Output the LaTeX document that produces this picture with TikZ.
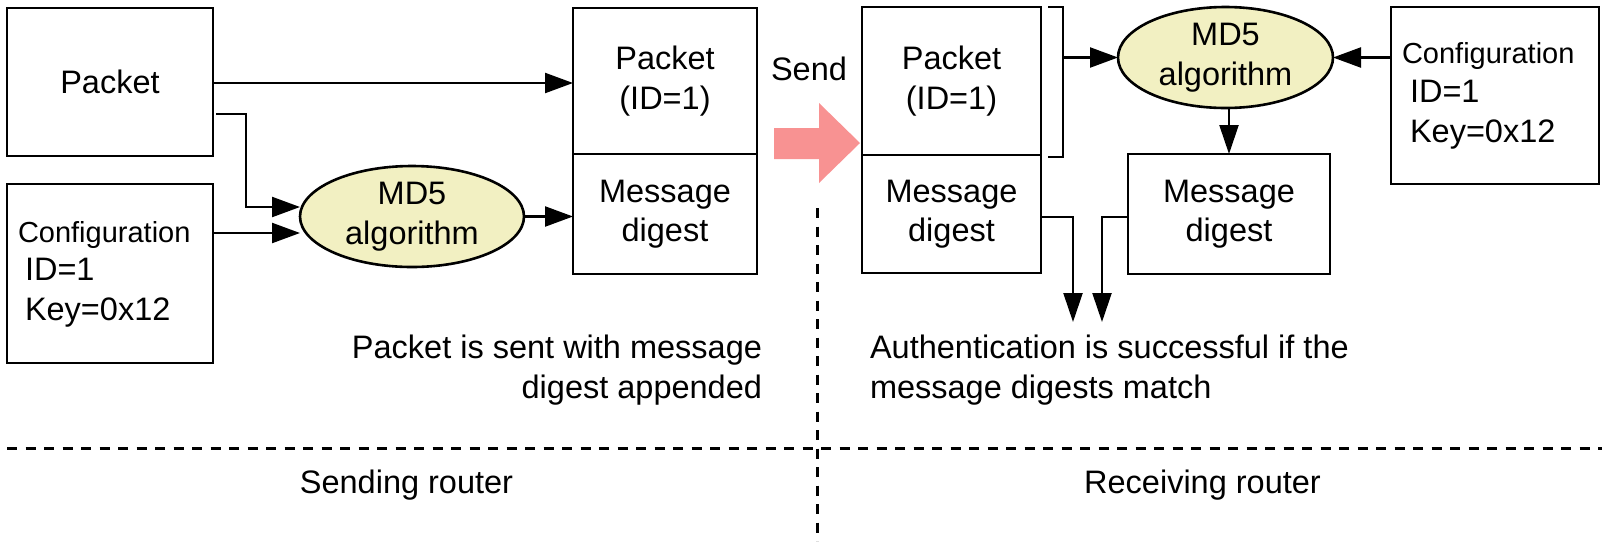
\documentclass[tikz,border=0pt]{standalone}
\usepackage{fontspec}
\setmainfont{Liberation Sans}
\usetikzlibrary{arrows.meta,shapes.geometric,calc}
\definecolor{ellfill}{RGB}{242,240,194}
\definecolor{sendpink}{RGB}{248,146,146}
\newcommand{\mainfs}{\fontsize{32.5}{39.5}\selectfont}
\newcommand{\cfgfs}{\fontsize{29}{35}\selectfont}
\begin{document}
\begin{tikzpicture}[x=1pt,y=-1pt,
  every node/.style={inner sep=0pt,outer sep=0pt,font=\mainfs},
  box/.style={draw,line width=2.6pt,align=center},
  algo/.style={ellipse,draw,line width=2.6pt,fill=ellfill,align=center},
  conn/.style={line width=2.3pt},
  arr/.style={conn,-{Triangle[length=28pt,width=20pt]}},
  darr/.style={conn,-{Triangle[length=29pt,width=19pt]}},
  sep/.style={line width=3pt,dash pattern=on 10pt off 8.5pt},
  txt/.style={align=left}]
\useasboundingbox (0,0) rectangle (1609,547);

% ---------- sending router ----------
\node[box,minimum width=206pt,minimum height=148pt] (pkt) at (110,82) {Packet};
\node[box,minimum width=206pt,minimum height=179pt] (cfgL) at (110,273.5) {};
\node[anchor=base west,font=\cfgfs] (cfgLa) at (18,242) {Configuration};
\node[anchor=base west] (cfgLb) at (25,280) {ID=1};
\node[anchor=base west] (cfgLc) at (25,320) {Key=0x12};

\node[algo,minimum width=224pt,minimum height=101pt] (ellL) at (412,216.5) {MD5\\algorithm};

\node[box,minimum width=184pt,minimum height=146pt] (pktS) at (665,81) {Packet\\(ID=1)};
\node[box,minimum width=184pt,minimum height=120pt] (mdS) at (665,214) {Message\\digest};

\draw[arr] (pkt.east |- 0,83) -- (pktS.west |- 0,83);
\coordinate (kL) at (246,114);
\draw[arr] ($(pkt.east |- kL)+(3,0)$) -- (kL) |- (ellL.west |- 0,207);
\draw[arr] (cfgL.east |- 0,233) -- (ellL.west |- 0,233);
\draw[arr] (ellL.east) -- (mdS.west |- ellL.east);

\node[anchor=base west] (send) at (771,80) {Send};
\fill[sendpink] (774,128) -- (819,128) -- (819,103) -- (860,143) -- (819,183) -- (819,159) -- (774,159) -- cycle;

\node[txt,align=right,anchor=base east] (noteS) at (762,398) {Packet is sent with message\\digest appended};

% ---------- receiving router ----------
\node[box,minimum width=179pt,minimum height=148pt] (pktR) at (951.5,81) {Packet\\(ID=1)};
\node[box,minimum width=179pt,minimum height=118pt] (mdR) at (951.5,214) {Message\\digest};
\coordinate (brA) at (1048,7);
\coordinate (brB) at (1063,157);
\draw[conn] (brA) -| (brB) -- (brB -| brA);

\node[algo,minimum width=215pt,minimum height=101pt] (ellR) at (1225.5,57.5) {MD5\\algorithm};
\node[box,minimum width=208pt,minimum height=177pt] (cfgR) at (1495,95.5) {};
\node[anchor=base west,font=\cfgfs] (cfgRa) at (1402,63) {Configuration};
\node[anchor=base west] (cfgRb) at (1410,102) {ID=1};
\node[anchor=base west] (cfgRc) at (1410,142) {Key=0x12};
\node[box,minimum width=202pt,minimum height=120pt] (mdC) at (1229,214) {Message\\digest};

\draw[arr] (brB |- ellR.west) -- (ellR.west);
\draw[arr] (cfgR.west |- ellR.east) -- (ellR.east);
\draw[darr] (mdC.north |- ellR.south) -- (mdC.north);

\coordinate (j1) at (1073,322);
\coordinate (j2) at (1102,322);
\draw[darr] (mdR.east |- 0,217) -| (j1);
\draw[darr] (mdC.west |- 0,217) -| (j2);

\node[txt,anchor=base west] (noteR) at (870,398) {Authentication is successful if the\\message digests match};

% ---------- separators ----------
\coordinate (vT) at (817,208);
\coordinate (vB) at (817,541);
\draw[sep] (vT) -- (vB);
\coordinate (hL) at (7,448);
\coordinate (hR) at (1602,448);
\draw[sep] (hL) -- (hR);

\node[anchor=base] (sr) at (406.5,493) {Sending router};
\node[anchor=base] (rr) at (1202.5,493) {Receiving router};
\end{tikzpicture}
\end{document}
